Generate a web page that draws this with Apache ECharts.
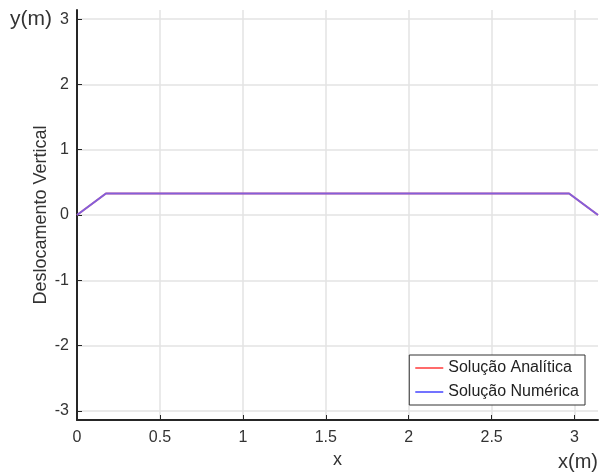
<!DOCTYPE html>
<html>
<head>
<meta charset="utf-8">
<script src="https://cdn.jsdelivr.net/npm/echarts@6/dist/echarts.min.js"></script>
<style>
  html, body { margin: 0; padding: 0; background: #fff; }
  #chart { width: 601px; height: 475px; }
</style>
</head>
<body>
<div id="chart"></div>
<script>
// dados
const xAnalitica = [0, 0.1745, 2.9671, 3.1416];
const yAnalitica = [0, 0.33, 0.33, 0];
const xNumerica = [0, 0.1745, 2.9671, 3.1416];
const yNumerica = [0, 0.33, 0.33, 0];
const nomes = ['Solução Analítica', 'Solução Numérica'];

const fonte = '"Liberation Sans", Arial, sans-serif';
const chart = echarts.init(document.getElementById('chart'));

const option = {
    animation: false,
    textStyle: { fontFamily: fonte },
    grid: { left: 77, right: 3, top: 10, bottom: 55 },
    legend: {
        data: nomes,
        orient: 'vertical',
        right: 16,
        bottom: 70,
        icon: 'rect',
        itemWidth: 28,
        itemHeight: 2,
        itemGap: 6,
        padding: [4, 6, 4, 6],
        borderColor: '#333',
        borderWidth: 1,
        backgroundColor: '#fff',
        textStyle: { fontSize: 16, color: '#222', fontFamily: fonte, lineHeight: 18 }
    },
    xAxis: {
        type: 'value',
        min: 0,
        max: 3.1416,
        interval: 0.5,
        name: 'x',
        nameLocation: 'middle',
        nameGap: 30,
        nameTextStyle: { fontSize: 18, color: '#333' },
        axisLine: { onZero: false, lineStyle: { color: '#262626', width: 2 } },
        axisTick: { inside: true, length: 5, lineStyle: { color: '#262626' } },
        axisLabel: { fontSize: 16, color: '#333', margin: 10, showMaxLabel: false },
        splitLine: { show: true, showMinLine: false, showMaxLine: false, lineStyle: { color: '#e3e3e3', width: 1.5 } }
    },
    yAxis: {
        type: 'value',
        min: -3.1416,
        max: 3.1416,
        splitNumber: 6,
        name: 'Deslocamento Vertical',
        nameLocation: 'middle',
        nameGap: 27,
        nameMoveOverlap: false,
        nameTextStyle: { fontSize: 18, color: '#333' },
        axisLine: { onZero: false, lineStyle: { color: '#262626', width: 2 } },
        axisTick: { inside: true, length: 5, lineStyle: { color: '#262626' } },
        axisLabel: { fontSize: 16, color: '#333', margin: 8, showMinLabel: false, showMaxLabel: false },
        splitLine: { show: true, showMinLine: false, showMaxLine: false, lineStyle: { color: '#e3e3e3', width: 1.5 } }
    },
    series: [
        {
            name: nomes[0],
            type: 'line',
            symbol: 'none',
            data: xAnalitica.map((x, i) => [x, yAnalitica[i]]),
            lineStyle: { color: '#ff6b6b', width: 2 },
            itemStyle: { color: '#ff6b6b' }
        },
        {
            name: nomes[1],
            type: 'line',
            symbol: 'none',
            data: xNumerica.map((x, i) => [x, yNumerica[i]]),
            lineStyle: { color: '#5a5aff', width: 2, opacity: 0.75 },
            itemStyle: { color: '#7373ff' }
        }
    ],
    graphic: [
        {
            type: 'text', left: 10, top: 9,
            style: { text: 'y(m)', fontSize: 21, fill: '#333', fontFamily: fonte }
        },
        {
            type: 'text', right: 3, top: 452,
            style: { text: 'x(m)', fontSize: 20, fill: '#333', fontFamily: fonte }
        }
    ]
};

chart.setOption(option);
</script>
</body>
</html>
